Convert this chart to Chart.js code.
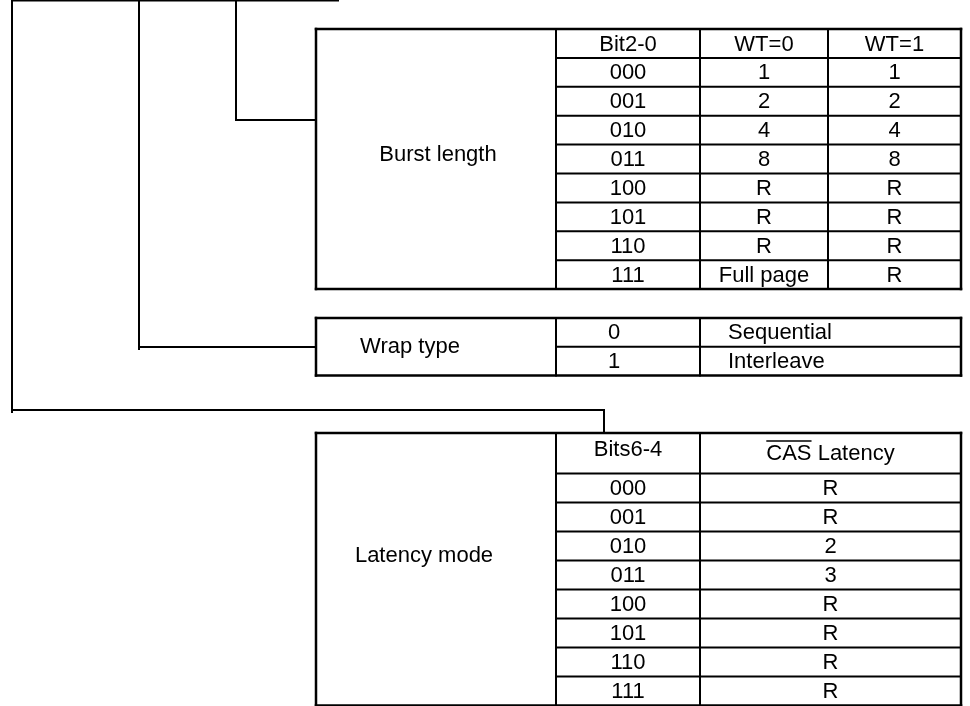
<!DOCTYPE html>
<html>
<head>
<meta charset="utf-8">
<script src="https://cdn.jsdelivr.net/npm/chart.js@4"></script>
<style>
  html, body { margin: 0; padding: 0; background: #fff; }
  #mode-chart { display: block; }
</style>
</head>
<body>
<canvas id="mode-chart" width="970" height="706"></canvas>
<script>
// table contents
const fieldNames = ["Burst length", "Wrap type", "Latency mode"];
const burstHeader = ["Bit2-0", "WT=0", "WT=1"];
const burstBits = ["000", "001", "010", "011", "100", "101", "110", "111"];
const burstWT0 = ["1", "2", "4", "8", "R", "R", "R", "Full page"];
const burstWT1 = ["1", "2", "4", "8", "R", "R", "R", "R"];
const wrapBits = ["0", "1"];
const wrapNames = ["Sequential", "Interleave"];
const latencyHeader = ["Bits6-4", "CAS Latency"];
const latencyBits = ["000", "001", "010", "011", "100", "101", "110", "111"];
const casLatency = ["R", "R", "2", "3", "R", "R", "R", "R"];

// layout (pixels of the page, mapped through the hidden linear scales)
const W = 970, H = 706;
const tblLeft = 316, tblSplit = 556, tblRight = 961;
const burstCols = [556, 700, 828, 961];
const burstTop = 29, burstRowH = 28.9;
const wrapCols = [556, 700, 961];
const wrapTop = 318, wrapRowH = 28.75;
const latCols = [556, 700, 961];
const latTop = 433, latHeadH = 40.5, latRowH = 29;

const FONT = '22px "Liberation Sans", Arial, sans-serif';

const segments = [];   // [x1, y1, x2, y2, width]
const texts = [];      // {t, x, y, align, over}

const seg = (x1, y1, x2, y2, w = 2) => segments.push([x1, y1, x2, y2, w]);

const box = (top, bottom) => {
	seg(tblLeft, top, tblRight, top, 2.5);
	seg(tblLeft, bottom, tblRight, bottom, 2.5);
	seg(tblLeft, top, tblLeft, bottom, 2.5);
	seg(tblRight, top, tblRight, bottom, 2.5);
};

// burst length table
const burstBottom = burstTop + burstRowH * (burstBits.length + 1);
box(burstTop, burstBottom);
burstCols.slice(0, 3).forEach((c) => seg(c, burstTop, c, burstBottom));
for (let r = 1; r <= burstBits.length; r++) seg(tblSplit, burstTop + r * burstRowH, tblRight, burstTop + r * burstRowH);
const colMid = (cols, i) => (cols[i] + cols[i + 1]) / 2;
burstHeader.forEach((h, i) => texts.push({ t: h, x: colMid(burstCols, i), y: burstTop + burstRowH / 2 + 1 }));
burstBits.forEach((b, r) => {
	const y = burstTop + (r + 1.5) * burstRowH + 1;
	texts.push({ t: b, x: colMid(burstCols, 0), y });
	texts.push({ t: burstWT0[r], x: colMid(burstCols, 1), y });
	texts.push({ t: burstWT1[r], x: colMid(burstCols, 2), y });
});
texts.push({ t: fieldNames[0], x: 438, y: 155 });

// wrap type table
const wrapBottom = wrapTop + wrapRowH * wrapBits.length;
box(wrapTop, wrapBottom);
wrapCols.slice(0, 2).forEach((c) => seg(c, wrapTop, c, wrapBottom));
seg(tblSplit, wrapTop + wrapRowH, tblRight, wrapTop + wrapRowH);
wrapBits.forEach((b, r) => {
	const y = wrapTop + (r + 0.5) * wrapRowH + 1;
	texts.push({ t: b, x: wrapCols[0] + 52, y, align: "left" });
	texts.push({ t: wrapNames[r], x: wrapCols[1] + 28, y, align: "left" });
});
texts.push({ t: fieldNames[1], x: 410, y: (wrapTop + wrapBottom) / 2 });

// latency mode table
const latBottom = latTop + latHeadH + latRowH * latencyBits.length;
box(latTop, latBottom);
latCols.slice(0, 2).forEach((c) => seg(c, latTop, c, latBottom));
for (let r = 0; r < latencyBits.length; r++) seg(tblSplit, latTop + latHeadH + r * latRowH, tblRight, latTop + latHeadH + r * latRowH);
texts.push({ t: latencyHeader[0], x: colMid(latCols, 0), y: latTop + 17 });
texts.push({ t: latencyHeader[1], x: colMid(latCols, 1), y: latTop + 21, over: "CAS" });
latencyBits.forEach((b, r) => {
	const y = latTop + latHeadH + (r + 0.5) * latRowH + 1;
	texts.push({ t: b, x: colMid(latCols, 0), y });
	texts.push({ t: casLatency[r], x: colMid(latCols, 1), y });
});
texts.push({ t: fieldNames[2], x: 424, y: 556 });

// connectors from the register bits
seg(12, 0.5, 338, 0.5);
seg(12, 0, 12, 412);
seg(12, 410, 604, 410);
seg(604, 410, 604, latTop);
seg(139, 0, 139, 349);
seg(139, 347, tblLeft, 347);
seg(236, 0, 236, 120);
seg(236, 120, tblLeft, 120);

const datasets = segments.map(([x1, y1, x2, y2, w]) => ({
	data: [{ x: x1, y: y1 }, { x: x2, y: y2 }],
	showLine: true,
	borderColor: "#000",
	borderWidth: w,
	borderCapStyle: "square",
	pointRadius: 0,
	clip: false,
}));

const cellText = {
	id: "cellText",
	afterDatasetsDraw(chart) {
		const { ctx, scales } = chart;
		ctx.save();
		ctx.font = FONT;
		ctx.fillStyle = "#000";
		ctx.textBaseline = "middle";
		texts.forEach((item) => {
			const px = scales.x.getPixelForValue(item.x);
			const py = scales.y.getPixelForValue(item.y);
			ctx.textAlign = item.align || "center";
			ctx.fillText(item.t, px, py);
			if (item.over) {
				// bar over the active-low signal name
				const full = ctx.measureText(item.t).width;
				const ow = ctx.measureText(item.over).width;
				const x0 = px - full / 2;
				ctx.strokeStyle = "#000";
				ctx.lineWidth = 1.5;
				ctx.beginPath();
				ctx.moveTo(x0, py - 13);
				ctx.lineTo(x0 + ow, py - 13);
				ctx.stroke();
			}
		});
		ctx.restore();
	},
};

new Chart(document.getElementById("mode-chart"), {
	type: "scatter",
	data: { datasets },
	options: {
		responsive: false,
		animation: false,
		devicePixelRatio: 1,
		events: [],
		layout: { padding: 0 },
		scales: {
			x: { type: "linear", min: 0, max: W, display: false },
			y: { type: "linear", min: 0, max: H, reverse: true, display: false },
		},
		plugins: { legend: { display: false }, tooltip: { enabled: false } },
	},
	plugins: [cellText],
});
</script>
</body>
</html>
